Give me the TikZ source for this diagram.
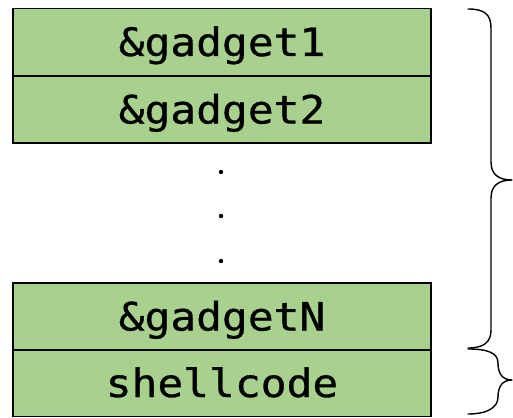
\documentclass[tikz,border=0pt]{standalone}
\usepackage{fontspec}
\newfontfamily\boxmono[FakeStretch=1.1,FakeBold=0.8]{DejaVu Sans Mono}
\definecolor{cellgreen}{HTML}{A9D18E}
\begin{document}
\begin{tikzpicture}[x=1pt,y=-1pt,
  cell/.style={draw=black,line width=1.5pt,fill=cellgreen,minimum width=418pt,
    minimum height=67pt,inner sep=0pt,outer sep=0pt,font=\boxmono\fontsize{39}{41}\selectfont,
    text height=28pt,text depth=0pt},
  divider/.style={draw=black,line width=1.5pt},
  bracepath/.style={draw=black,line width=1.4pt,line cap=round,line join=round},
  dotmark/.style={fill=black,draw=none}]
\useasboundingbox (0,0) rectangle (513,417);
\node[cell] (g1) at (222,42) {\&gadget1};
\node[cell] (g2) at (222,109.5) {\&gadget2};
\node[cell] (gN) at (222,316.5) {\&gadgetN};
\node[cell] (sc) at (222,383) {shellcode};
\draw[divider] (g1.south west) -- (g1.south east);
\draw[divider] (gN.south west) -- (gN.south east);
\fill[dotmark] (221,172) circle (2.2);
\fill[dotmark] (221,216) circle (2.2);
\fill[dotmark] (221,261) circle (2.2);
% big brace
\draw[bracepath] (468,9) .. controls (484,9) and (491,14) .. (491,28)
  -- (491,162) .. controls (491,174) and (498,180) .. (512,180)
  .. controls (498,180) and (491,186) .. (491,198)
  -- (491,330) .. controls (491,342) and (484,348) .. (468,348);
% small brace
\draw[bracepath] (468,349) .. controls (488,349) and (498,353) .. (498,363)
  .. controls (498,373) and (502,380) .. (512,380)
  .. controls (502,380) and (498,387) .. (498,397)
  .. controls (498,407) and (488,414) .. (468,414);
\end{tikzpicture}
\end{document}
